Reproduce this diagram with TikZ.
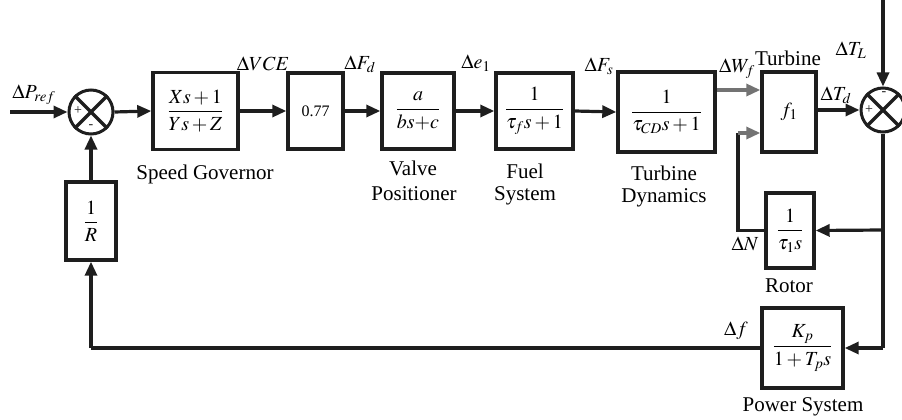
\documentclass[tikz,border=0pt]{standalone}
\usepackage{amsmath}
\usepackage{mathptmx}
\usepackage[no-math]{fontspec}
\setmainfont{Liberation Serif}
\usetikzlibrary{arrows.meta}
\definecolor{grayline}{RGB}{115,115,115}
\definecolor{ink}{RGB}{30,30,30}
\newcommand{\lblsize}{\fontsize{20}{23}\selectfont}
\newcommand{\txtsize}{\fontsize{21}{24}\selectfont}
\newcommand{\boxsize}{\fontsize{20}{23}\selectfont}
\newcommand{\signsize}{\fontsize{14}{16}\selectfont}
\begin{document}
\begin{tikzpicture}[x=1pt,y=-1pt,
  wire/.style={draw=ink,line width=3.2pt},
  arr/.style={wire,-{Triangle[length=14pt,width=12pt]}},
  garr/.style={draw=grayline,line width=3.2pt,-{Triangle[length=14pt,width=12pt]}},
  blk/.style={draw=ink,line width=3.4pt,inner sep=0pt,font=\boxsize,fill=white},
  sumnode/.style={draw=ink,line width=3pt,circle,minimum size=44pt,inner sep=0pt},
  lbl/.style={font=\lblsize,inner sep=0pt},
  txt/.style={font=\txtsize,inner sep=0pt},
  sign/.style={font=\signsize,inner sep=0pt,text=ink}]
\useasboundingbox (0,0) rectangle (902,420);

% blocks
\node[blk,minimum width=85pt,minimum height=77pt] (gov) at (195.5,111) {$\dfrac{Xs+1}{Ys+Z}$};
\node[blk,minimum width=55pt,minimum height=76pt,font=\fontsize{16}{19}\selectfont] (k) at (315.5,111) {0.77};
\node[blk,minimum width=72pt,minimum height=76pt] (valve) at (418,111) {$\dfrac{a}{bs{+}c}$};
\node[blk,minimum width=77pt,minimum height=76pt] (fuel) at (534.5,111) {$\dfrac{1}{\tau_f s+1}$};
\node[blk,minimum width=97pt,minimum height=80pt] (td) at (666.5,112) {$\dfrac{1}{\tau_{CD}s+1}$};
\node[blk,minimum width=54pt,minimum height=80pt] (f1) at (789,112) {$f_1$};
\node[blk,minimum width=48pt,minimum height=75pt] (rotor) at (790,230.5) {$\dfrac{1}{\tau_1 s}$};
\node[blk,minimum width=81pt,minimum height=80pt] (ps) at (802.5,348) {$\dfrac{K_p}{1+T_p s}$};
\node[blk,minimum width=50pt,minimum height=78pt] (invr) at (91,221) {$\dfrac{1}{R}$};

% summing junctions
\node[sumnode] (s1) at (91,112) {};
\node[sumnode] (s2) at (883,110) {};
\foreach \s in {s1,s2}{
  \draw[wire] (\s.45) -- (\s.225);
  \draw[wire] (\s.135) -- (\s.315);
}
\node[sign] at (78,111) {+};
\node[sign] at (91,127) {-};
\node[sign] at (884,94) {-};
\node[sign] at (869,110) {+};

% coordinates
\coordinate (pin) at (10,112);
\coordinate (tl) at (883,0);
\coordinate (br1) at (883,230);
\coordinate (br2) at (883,348);
\coordinate (fbx) at (738,133);
\coordinate (bl) at (91,348);

% forward path
\draw[arr] (pin) -- (s1.west);
\draw[arr] (s1.east) -- (gov.west);
\draw[arr] (gov.east) -- (k.west);
\draw[arr] (k.east) -- (valve.west);
\draw[arr] (valve.east) -- (fuel.west);
\draw[arr] (fuel.east) -- (td.west);
\draw[garr] (td.east |- 0,90) -- (f1.west |- 0,90);
\draw[arr] (f1.east |- s2.west) -- (s2.west);
\draw[arr] (tl) -- (s2.north);

% feedback paths
\draw[wire] (s2.south) -- (br2);
\draw[arr] (br1) -- (rotor.east);
\draw[arr] (br2) -- (ps.east);
\draw[wire] (rotor.west) -| (fbx);
\draw[garr] (fbx) -- (f1.west |- fbx);
\draw[wire] (ps.west) -- (bl);
\draw[arr] (bl) -- (invr.south);
\draw[arr] (invr.north) -- (s1.south);

% labels
\node[lbl] at (34,95) {$\Delta P_{ref}$};
\node[lbl] at (263,64) {$\Delta VCE$};
\node[lbl] at (360,64) {$\Delta F_d$};
\node[lbl] at (476,63) {$\Delta e_1$};
\node[lbl] at (599,66) {$\Delta F_s$};
\node[lbl] at (737,69) {$\Delta W_f$};
\node[txt] at (788,58) {Turbine};
\node[lbl] at (851,50) {$\Delta T_L$};
\node[lbl] at (836,95) {$\Delta T_d$};
\node[lbl] at (745,244) {$\Delta N$};
\node[txt] at (789,286) {Rotor};
\node[lbl] at (736,331) {$\Delta f$};
\node[txt] at (803,407) {Power System};
\node[txt] at (205,174) {Speed Governor};
\node[txt] at (413,168) {Valve};
\node[txt] at (414,194) {Positioner};
\node[txt] at (525,171) {Fuel};
\node[txt] at (525,196) {System};
\node[txt] at (664,173) {Turbine};
\node[txt] at (664,198) {Dynamics};
\end{tikzpicture}
\end{document}
